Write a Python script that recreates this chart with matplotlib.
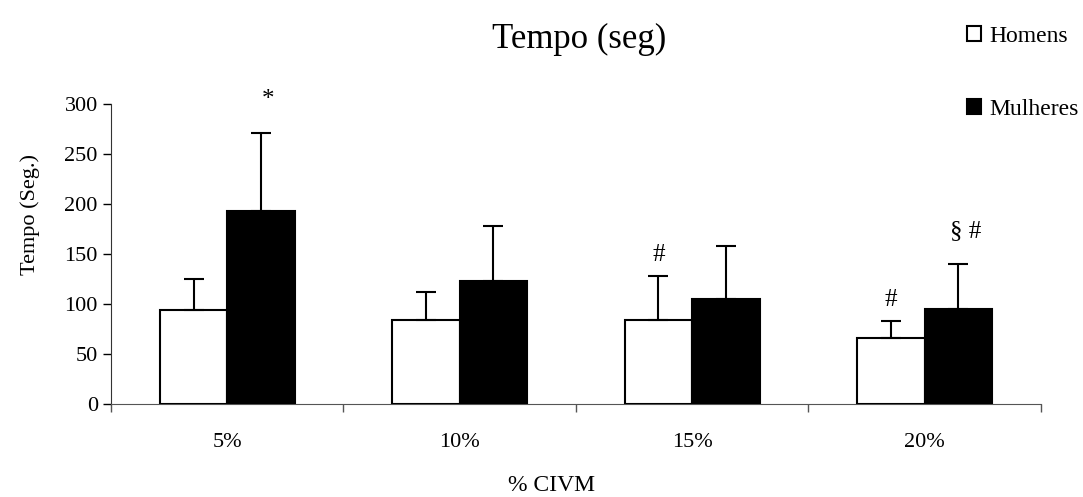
import numpy as np
import matplotlib
matplotlib.use("Agg")
import matplotlib.pyplot as plt

plt.rcParams['font.family'] = ['Liberation Serif', 'DejaVu Serif']

# values
categories = ['5%', '10%', '15%', '20%']
homens = [94, 84, 84, 66]
homens_sd = [31, 28, 44, 17]
mulheres = [193, 123, 105, 95]
mulheres_sd = [78, 55, 53, 45]
marks_homens = ['', '', '#', '#']
marks_mulheres = ['*', '', '', '§ #']

x = np.arange(len(categories))
w = 0.29

fig = plt.figure(figsize=(10.83, 4.97), dpi=100)
ax = fig.add_axes([0.1025, 0.187, 0.8585, 0.604])

err = dict(ecolor='black', elinewidth=1.5, capsize=7, capthick=1.5)
ax.bar(x - w / 2, homens, w, color='white', edgecolor='black', linewidth=1.5,
       yerr=[np.zeros(4), homens_sd], error_kw=err, label='Homens', zorder=3)
ax.bar(x + w / 2, mulheres, w, color='black', edgecolor='black', linewidth=1.5,
       yerr=[np.zeros(4), mulheres_sd], error_kw=err, label='Mulheres', zorder=3)

# significance marks above the error bars
for i in range(len(categories)):
    if marks_homens[i]:
        ax.text(x[i] - w / 2, homens[i] + homens_sd[i] + 10, marks_homens[i],
                ha='center', va='bottom', fontsize=18, clip_on=False)
    if marks_mulheres[i]:
        ax.text(x[i] + w / 2 + 0.03, mulheres[i] + mulheres_sd[i] + 22, marks_mulheres[i],
                ha='center', va='bottom', fontsize=18, clip_on=False)

ax.set_xlim(-0.5, len(categories) - 0.5)
ax.set_ylim(0, 300)
ax.set_yticks(np.arange(0, 301, 50))
ax.set_xticks(x)
ax.set_xticklabels(categories)
ax.set_xticks(np.arange(-0.5, len(categories), 1), minor=True)
ax.tick_params(axis='x', which='major', length=0, pad=21, labelsize=16)
ax.tick_params(axis='x', which='minor', length=6, direction='out', width=1, color='#555555')
ax.tick_params(axis='y', length=6, direction='out', width=1, labelsize=16)

for s in ['top', 'right']:
    ax.spines[s].set_visible(False)
ax.spines['bottom'].set_color('#555555')
ax.spines['left'].set_color('#333333')

ax.set_xlabel('% CIVM', fontsize=17)
ax.xaxis.set_label_coords(0.474, -0.235)
ax.set_ylabel('Tempo (Seg.)', fontsize=16)
ax.yaxis.set_label_coords(-0.076, 0.633)
fig.text(0.535, 0.92, 'Tempo (seg)', ha='center', va='center', fontsize=25)

fig.legend(loc='upper right', bbox_to_anchor=(0.998, 0.953), frameon=False, fontsize=17,
           handlelength=0.6, handleheight=0.6, handletextpad=0.35, labelspacing=2.2,
           borderaxespad=0, borderpad=0.1)

fig.savefig('out.png', dpi=100)
